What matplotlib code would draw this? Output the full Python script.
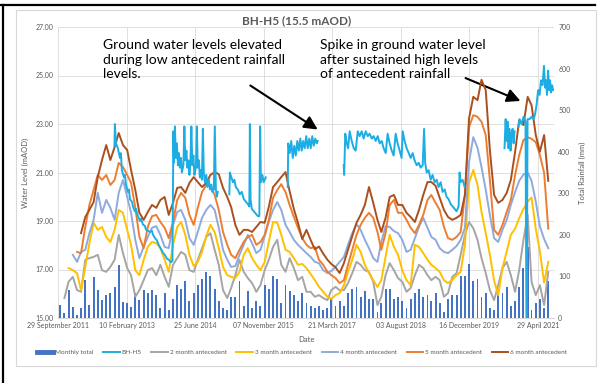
import numpy as np
import pandas as pd
import matplotlib
matplotlib.use("Agg")
import matplotlib.pyplot as plt
from matplotlib.lines import Line2D

plt.rcParams['font.family'] = ['Lato', 'DejaVu Sans']

START = pd.Timestamp('2011-09-29')
END = pd.Timestamp('2021-08-26')

# monthly rainfall totals (mm), October 2011 onwards
rain_total = [31, 12, 67, 26, 7, 24, 91, 31, 99, 67, 43, 55, 60, 75, 127, 38, 36, 26, 60, 43, 67, 60, 67,
              55, 25, 60, 20, 45, 80, 70, 90, 40, 60, 80, 95, 110, 100, 70, 40, 25, 20, 50, 50, 90, 30, 65,
              25, 40, 30, 80, 70, 100, 95, 35, 80, 65, 55, 40, 60, 35, 30, 25, 30, 20, 25, 45, 30, 40,
              30, 60, 70, 75, 50, 65, 45, 45, 15, 35, 70, 70, 45, 50, 40, 25, 45, 60, 70, 50, 55, 40, 60,
              35, 15, 45, 55, 55, 100, 100, 130, 90, 95, 50, 60, 25, 20, 60, 60, 75, 30, 40, 75, 120, 170,
              20, 35, 45, 25, 90]

nan = np.nan
ante_2 = [nan, 48, 87, 99, 67, 63, 140, 144, 147, 152, 115, 111, 123, 140, 200, 156, 120, 103, 51, 67, 91, 115, 120,
          103, 128, 99, 75, 128, 144, 159, 152, 115, 111, 140, 168, 195, 204, 164, 128, 67, 48, 72, 103, 140, 111, 96,
          84, 63, 79, 115, 140, 171, 188, 128, 111, 144, 120, 91, 99, 63, 63, 51, 55, 48, 43, 67, 75, 67,
          67, 84, 108, 135, 128, 115, 111, 87, 31, 51, 103, 132, 115, 96, 87, 63, 72, 103, 128, 120, 103, 91, 99,
          91, 51, 60, 99, 108, 152, 200, 231, 216, 188, 144, 108, 67, 43, 79, 120, 135, 103, 63, 115, 188, 248,
          87, 55, 79, 31, 111]
ante_3 = [nan, nan, 120, 115, 108, 67, 123, 180, 229, 212, 219, 195, 183, 212, 260, 253, 212, 176, 115, 103, 140, 171, 183,
          180, 168, 140, 111, 176, 219, 231, 200, 152, 125, 135, 159, 197, 224, 207, 168, 123, 103, 99, 96, 111, 152, 168,
          144, 128, 115, 135, 183, 231, 229, 200, 164, 159, 144, 128, 130, 120, 106, 91, 75, 63, 51, 46, 55, 60,
          79, 111, 140, 176, 159, 128, 108, 91, 75, 91, 147, 200, 171, 152, 115, 91, 79, 176, 171, 156, 140, 128, 120,
          111, 91, 84, 91, 103, 111, 176, 325, 356, 320, 255, 204, 152, 90, 55, 120, 160, 200, 215, 240, 262, 280,
          290, 215, 160, 85, 135]
ante_4 = [nan, nan, nan, 152, 135, 159, 164, 204, 236, 301, 253, 284, 265, 236, 301, 332, 291, 253, 188, 144, 171, 195, 217,
          221, 200, 171, 168, 224, 255, 260, 236, 192, 176, 207, 241, 260, 272, 260, 217, 164, 140, 123, 125, 152, 176, 200,
          180, 156, 164, 197, 231, 260, 279, 260, 224, 207, 188, 176, 166, 156, 147, 135, 132, 115, 108, 113, 123, 135,
          147, 176, 204, 226, 212, 188, 168, 144, 135, 183, 221, 219, 209, 204, 188, 159, 164, 192, 219, 241, 217, 195, 188,
          168, 159, 156, 164, 173, 188, 217, 375, 435, 409, 363, 308, 248, 192, 183, 212, 236, 272, 303, 330, 345, 350,
          330, 280, 220, 190, 168]
ante_5 = [nan, nan, nan, nan, 159, 156, 219, 272, 308, 344, 332, 344, 320, 332, 373, 363, 344, 325, 265, 195, 168, 219, 245,
          248, 231, 217, 192, 231, 284, 301, 289, 248, 224, 265, 303, 320, 318, 296, 260, 207, 176, 152, 144, 164, 183, 195,
          200, 176, 183, 200, 236, 289, 308, 322, 303, 272, 243, 217, 192, 176, 168, 171, 140, 128, 111, 103, 96, 84,
          91, 128, 164, 200, 224, 241, 253, 241, 207, 164, 204, 272, 284, 253, 253, 236, 217, 204, 224, 248, 284, 296, 277,
          260, 219, 192, 188, 195, 207, 296, 459, 488, 484, 472, 440, 332, 212, 200, 224, 255, 284, 344, 392, 428, 435,
          431, 423, 392, 349, 215]
ante_6 = [nan, nan, nan, nan, nan, 204, 243, 260, 279, 339, 380, 416, 380, 411, 445, 416, 404, 356, 308, 253, 236, 255, 272,
          265, 284, 291, 248, 277, 313, 315, 301, 325, 339, 327, 315, 325, 344, 351, 346, 313, 291, 267, 224, 200, 212, 212,
          207, 219, 231, 229, 267, 315, 327, 339, 351, 305, 262, 229, 190, 212, 188, 165, 172, 155, 140, 130, 122, 108,
          132, 164, 197, 229, 248, 272, 315, 277, 236, 207, 241, 291, 296, 272, 272, 253, 243, 231, 260, 296, 327, 327, 318,
          289, 260, 243, 236, 241, 248, 296, 480, 532, 524, 573, 548, 404, 296, 277, 284, 301, 332, 399, 476, 464, 532,
          512, 440, 400, 440, 330]

# BH-H5 logger record: days since 29 Sep 2011 and water level (mAOD), nan = no record
bh_day = [412, 415, 423, 437, 452, 459, 466, 481, 488, 496, 510, 518, 525, 539, 547, 561, 569, 583, 598, 605,
          620, 634, 641, 656, 671, 685, 692, 707, 722, 736, 751, 765, 780, 794, 809, 824, 835, 842,
          846, 853, 860, 867, 875, 882, 889, 897, 904, 915, 922, 929, 937, 944, 951, 959, 966, 973, 980, 988,
          995, 1006, 1013, 1020, 1028, 1035, 1042, 1050, 1057, 1064, 1071, 1082, 1090, 1101, 1108, 1119, 1126,
          1137, 1144, 1152, 1159, 1166, 1200,
          1250, 1254, 1265, 1276, 1287, 1297, 1312, 1327, 1341, 1356, 1370, 1385, 1396, 1400, 1405, 1414, 1429,
          1443, 1458, 1469, 1475, 1480, 1491, 1501, 1516, 1600,
          1676, 1680, 1691, 1702, 1713, 1724, 1735, 1746, 1757, 1768, 1778, 1789, 1800, 1811, 1822, 1833, 1844,
          1855, 1866, 1877, 1888, 1895, 2000,
          2085, 2088, 2096, 2107, 2117, 2128, 2143, 2158, 2172, 2187, 2201, 2216, 2230, 2245, 2260, 2274, 2289,
          2303, 2318, 2333, 2347, 2362, 2376, 2391, 2405, 2420, 2435, 2449, 2464, 2478, 2493, 2507, 2515, 2529,
          2544, 2559, 2573, 2588, 2602, 2617, 2632, 2646, 2661, 2671, 2679, 2690, 2704, 2719, 2733, 2748, 2763,
          2777, 2792, 2806, 2821, 2835, 2850, 2865, 2879, 2894, 2908, 2923, 2930, 2937, 2952, 2967, 3100,
          3258, 3266, 3273, 3280, 3287, 3295, 3302, 3309, 3317, 3324, 3331, 3345,
          3360, 3368, 3382, 3397, 3411, 3419, 3426, 3441, 3455, 3470, 3481, 3492, 3503, 3514, 3524, 3535, 3546,
          3554, 3561, 3568, 3576, 3583, 3590, 3597, 3605, 3612]
bh_level = [22.1, 23.0, 22.2, 22.0, 21.6, 21.8, 21.1, 20.8, 20.9, 20.5, 20.2, 20.3, 19.9, 19.8, 19.6, 19.4, 19.5, 19.2, 19.0, 19.1,
            18.85, 18.8, 18.65, 18.6, 18.55, 18.6, 18.45, 18.3, 18.2, 18.0, 17.85, 17.7, 17.6, 17.45, 17.4, 17.3, 17.35, 22.7,
            21.4, 22.9, 21.6, 22.2, 21.3, 21.8, 21.2, 21.6, 21.0, 21.3, 22.9, 21.5, 21.9, 21.2, 21.5, 20.9, 21.4, 22.9, 21.3, 21.7,
            20.9, 21.2, 22.9, 21.2, 21.5, 20.8, 21.1, 20.7, 22.8, 21.0, 20.6, 20.9, 20.4, 20.7, 20.3, 20.5, 20.2,
            20.3, 22.9, 20.3, 20.0, 20.2, nan,
            20.1, 21.0, 20.8, 20.6, 20.7, 20.4, 20.3, 20.1, 20.2, 19.9, 19.8, 19.7, 19.6, 23.0, 19.9, 19.5, 19.4,
            19.3, 19.2, 19.2, 22.9, 20.6, 20.9, 20.6, 20.8, nan,
            20.4, 22.2, 21.8, 22.3, 21.6, 22.1, 21.7, 22.3, 21.9, 22.4, 21.9, 22.3, 22.0, 22.5, 22.0, 22.4, 22.0,
            22.5, 22.1, 22.4, 22.2, 22.3, nan,
            21.3, 20.9, 22.6, 22.2, 22.0, 22.7, 22.3, 22.0, 21.9, 22.7, 22.5, 22.7, 22.4, 22.7, 22.5, 22.6, 22.4,
            22.5, 22.3, 22.5, 22.2, 22.3, 22.0, 21.8, 22.6, 22.2, 21.9, 21.7, 22.6, 22.2, 21.9, 21.6, 22.7, 22.3,
            22.0, 21.8, 21.6, 21.8, 21.5, 21.3, 21.4, 21.2, 21.3, 22.8, 21.4, 21.0, 21.1, 20.7, 20.9, 20.6, 20.7,
            20.4, 20.6, 20.2, 20.3, 20.0, 19.9, 19.7, 19.6, 19.5, 19.4, 19.6, 21.0, 20.6, 20.7, 20.4, nan,
            22.0, 23.2, 22.3, 23.1, 22.0, 22.8, 21.9, 22.6, 22.8, 22.2, 22.7, nan,
            22.9, 23.2, 23.0, 23.3, 23.1, 13.5, 23.2, 23.2, 23.3, 23.2, 23.4, 23.8, 24.4, 24.2, 24.8, 24.6, 25.4,
            24.5, 24.8, 24.2, 25.2, 24.4, 24.8, 24.3, 24.6, 24.4]

months = pd.date_range('2011-10-01', periods=len(rain_total), freq='MS') + pd.Timedelta(days=14)
bh_dates = START + pd.to_timedelta(bh_day, unit='D')

GREY_TXT = '#595959'
GRID = '#D9D9D9'

fig = plt.figure(figsize=(6.05, 3.83), dpi=100)
W, H = 605, 383
ax = fig.add_axes([58 / W, 1 - 318 / H, 496 / W, 291 / H])
ax2 = ax.twinx()
ax3 = ax.twinx()

# rainfall on the secondary axis
ax2.bar(months, rain_total, width=14, color='#4472C4', zorder=1)
series = [(ante_2, '#A5A5A5'), (ante_3, '#FFC000'), (ante_4, '#8FAADC'),
          (ante_5, '#ED7D31'), (ante_6, '#A9501E')]
for vals, col in series:
    ax2.plot(months, vals, color=col, lw=1.4, zorder=2)
ax2.set_ylim(0, 700)
ax2.set_yticks(np.arange(0, 701, 100))

# groundwater level on top
ax3.plot(bh_dates, bh_level, color='#1CADE4', lw=1.4)
ax3.set_ylim(15, 27)
ax3.axis('off')

ax.set_ylim(15, 27)
ax.set_yticks(np.arange(15, 27.1, 2))
ax.set_yticklabels([f'{v:.2f}' for v in np.arange(15, 27.1, 2)])
ax.set_xlim(START, END)
xt = [START + pd.Timedelta(days=500 * k) for k in range(8)]
ax.set_xticks(xt)
ax.set_xticklabels([t.strftime('%d %B %Y') for t in xt])
ax.grid(True, color=GRID, lw=0.6)
ax.set_axisbelow(True)

for a in (ax, ax2):
    for s in a.spines.values():
        s.set_visible(False)
    a.tick_params(length=0, labelsize=5, colors=GREY_TXT, pad=3)
ax.spines['bottom'].set_visible(True)
ax.spines['bottom'].set_color(GRID)

ax.set_xlabel('Date', fontsize=5.5, color=GREY_TXT, labelpad=5)
ax.set_ylabel('Water Level (mAOD)', fontsize=5.5, color=GREY_TXT, labelpad=5)
ax2.set_ylabel('Total Rainfall (mm)', fontsize=5.5, color=GREY_TXT, labelpad=6)

fig.text(297 / W, 1 - 21 / H, 'BH-H5 (15.5 mAOD)', ha='center', va='center',
         fontsize=8.5, fontweight='bold', color=GREY_TXT)

fig.text(103 / W, 1 - 39 / H, 'Ground water levels elevated\nduring low antecedent rainfall\nlevels.',
         ha='left', va='top', fontsize=10, linespacing=1.25, color='black')
fig.text(320 / W, 1 - 39 / H, 'Spike in ground water level\nafter sustained high levels\nof antecedent rainfall',
         ha='left', va='top', fontsize=10, linespacing=1.25, color='black')

arrow = dict(arrowstyle='-|>', color='black', lw=1.5, mutation_scale=20)
ax.annotate('', xy=(320, H - 131), xytext=(248, H - 84), xycoords='figure pixels',
            textcoords='figure pixels', arrowprops=arrow)
ax.annotate('', xy=(523, H - 102), xytext=(463, H - 77), xycoords='figure pixels',
            textcoords='figure pixels', arrowprops=arrow)

handles = [Line2D([], [], color='#4472C4', lw=3.5),
           Line2D([], [], color='#1CADE4', lw=1.4)] + \
          [Line2D([], [], color=c, lw=1.4) for _, c in series]
labels = ['Monthly total', 'BH-H5', '2 month antecedent', '3 month antecedent',
          '4 month antecedent', '5 month antecedent', '6 month antecedent']
leg = fig.legend(handles, labels, loc='center', bbox_to_anchor=(302 / W, 1 - 352 / H), ncol=7,
                 frameon=False, fontsize=4.6, handlelength=2.6, handletextpad=0.3, columnspacing=1.5)
for t in leg.get_texts():
    t.set_color(GREY_TXT)

# chart frame and page border lines
fig.add_artist(plt.Rectangle((16 / W, 1 - 366 / H), 580 / W, 356 / H, transform=fig.transFigure,
                             fill=False, edgecolor=GRID, lw=0.8))
fig.add_artist(Line2D([0, 595 / W], [1 - 5 / H, 1 - 5 / H], transform=fig.transFigure, color='black', lw=1.6))
fig.add_artist(Line2D([3 / W, 3 / W], [0, 1 - 5 / H], transform=fig.transFigure, color='black', lw=1.6))

fig.savefig('out.png', dpi=100)
